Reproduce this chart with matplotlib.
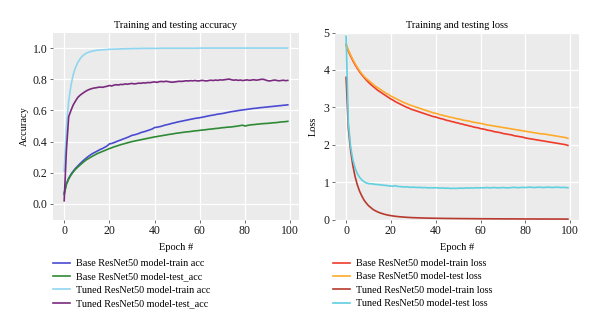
import matplotlib
matplotlib.use("Agg")
import matplotlib.pyplot as plt

epochs = list(range(100))

base_train_acc = [
    0.07, 0.13, 0.165, 0.19, 0.21, 0.228, 0.243, 0.258, 0.272, 0.285,
    0.297, 0.308, 0.318, 0.327, 0.334, 0.342, 0.35, 0.356, 0.364, 0.372,
    0.385, 0.388, 0.393, 0.399, 0.405, 0.41, 0.416, 0.421, 0.427, 0.433,
    0.44, 0.443, 0.447, 0.452, 0.458, 0.462, 0.466, 0.471, 0.476, 0.481,
    0.49, 0.492, 0.495, 0.498, 0.503, 0.507, 0.51, 0.514, 0.518, 0.521,
    0.525, 0.528, 0.531, 0.534, 0.537, 0.54, 0.543, 0.546, 0.549, 0.551,
    0.553, 0.556, 0.559, 0.562, 0.565, 0.568, 0.57, 0.573, 0.576, 0.578,
    0.58, 0.583, 0.586, 0.589, 0.592, 0.594, 0.596, 0.599, 0.601, 0.603,
    0.605, 0.607, 0.609, 0.611, 0.613, 0.614, 0.616, 0.618, 0.619, 0.621,
    0.622, 0.624, 0.625, 0.627, 0.628, 0.63, 0.631, 0.633, 0.634, 0.636]

base_test_acc = [
    0.06, 0.125, 0.16, 0.185, 0.205, 0.222, 0.236, 0.249, 0.262, 0.274,
    0.285, 0.293, 0.302, 0.31, 0.318, 0.325, 0.331, 0.337, 0.343, 0.349,
    0.355, 0.36, 0.366, 0.37, 0.375, 0.38, 0.384, 0.388, 0.392, 0.396,
    0.4, 0.403, 0.406, 0.409, 0.412, 0.415, 0.418, 0.421, 0.424, 0.427,
    0.43, 0.432, 0.435, 0.437, 0.44, 0.442, 0.445, 0.447, 0.449, 0.452,
    0.454, 0.456, 0.458, 0.46, 0.462, 0.463, 0.465, 0.467, 0.469, 0.47,
    0.472, 0.474, 0.475, 0.477, 0.479, 0.48, 0.482, 0.484, 0.485, 0.487,
    0.489, 0.49, 0.492, 0.493, 0.494, 0.496, 0.498, 0.5, 0.503, 0.505,
    0.5, 0.503, 0.506, 0.508, 0.509, 0.511, 0.512, 0.514, 0.515, 0.516,
    0.517, 0.518, 0.52, 0.521, 0.522, 0.524, 0.526, 0.527, 0.528, 0.53]

tuned_train_acc = [
    0.21, 0.5, 0.66, 0.76, 0.83, 0.875, 0.907, 0.93, 0.948, 0.96,
    0.969, 0.975, 0.979, 0.982, 0.985, 0.987, 0.988, 0.989, 0.99, 0.991,
    0.992, 0.993, 0.993, 0.994, 0.994, 0.995, 0.995, 0.996, 0.996, 0.996,
    0.997, 0.997, 0.997, 0.997, 0.998, 0.998, 0.998, 0.998, 0.998, 0.998,
    0.998, 0.998, 0.998, 0.999, 0.999, 0.999, 0.999, 0.999, 0.999, 0.999,
    0.999, 0.999, 0.999, 0.999, 0.999, 0.999, 0.999, 0.999, 0.999, 0.999,
    1.0, 1.0, 1.0, 1.0, 1.0, 1.0, 1.0, 1.0, 1.0, 1.0,
    1.0, 1.0, 1.0, 1.0, 1.0, 1.0, 1.0, 1.0, 1.0, 1.0,
    1.0, 1.0, 1.0, 1.0, 1.0, 1.0, 1.0, 1.0, 1.0, 1.0,
    1.0, 1.0, 1.0, 1.0, 1.0, 1.0, 1.0, 1.0, 1.0, 1.0]

tuned_test_acc = [
    0.02, 0.35, 0.56, 0.6, 0.635, 0.66, 0.683, 0.697, 0.708, 0.718,
    0.727, 0.734, 0.739, 0.743, 0.745, 0.748, 0.75, 0.748, 0.752, 0.755,
    0.76, 0.757, 0.762, 0.765, 0.763, 0.767, 0.766, 0.77, 0.768, 0.771,
    0.773, 0.77, 0.772, 0.775, 0.774, 0.777, 0.776, 0.779, 0.778, 0.781,
    0.783, 0.78, 0.784, 0.786, 0.784, 0.787, 0.785, 0.782, 0.781, 0.783,
    0.785, 0.787, 0.786, 0.788, 0.79, 0.789, 0.791, 0.79, 0.792, 0.789,
    0.79, 0.793, 0.791, 0.789, 0.792, 0.794, 0.792, 0.795, 0.793, 0.796,
    0.795, 0.797, 0.799, 0.801, 0.797, 0.794, 0.796, 0.793, 0.795, 0.792,
    0.794, 0.796, 0.793, 0.795, 0.797, 0.794, 0.796, 0.799, 0.8, 0.796,
    0.791, 0.789, 0.792, 0.795, 0.793, 0.79, 0.792, 0.794, 0.791, 0.793]

base_train_loss = [
    4.66, 4.5, 4.37, 4.25, 4.14, 4.04, 3.95, 3.87, 3.8, 3.73,
    3.67, 3.61, 3.56, 3.51, 3.46, 3.42, 3.38, 3.34, 3.3, 3.26,
    3.22, 3.19, 3.15, 3.12, 3.09, 3.06, 3.03, 3.0, 2.98, 2.95,
    2.93, 2.91, 2.89, 2.87, 2.85, 2.83, 2.81, 2.79, 2.77, 2.75,
    2.74, 2.72, 2.7, 2.69, 2.67, 2.65, 2.64, 2.62, 2.61, 2.59,
    2.58, 2.56, 2.55, 2.53, 2.52, 2.5, 2.49, 2.47, 2.46, 2.45,
    2.43, 2.42, 2.41, 2.39, 2.38, 2.37, 2.35, 2.34, 2.33, 2.32,
    2.3, 2.29, 2.28, 2.27, 2.26, 2.24, 2.23, 2.22, 2.21, 2.2,
    2.18, 2.17, 2.16, 2.15, 2.14, 2.13, 2.12, 2.11, 2.1, 2.09,
    2.08, 2.07, 2.06, 2.05, 2.04, 2.03, 2.02, 2.01, 2.0, 1.98]

base_test_loss = [
    4.7, 4.53, 4.4, 4.28, 4.17, 4.07, 3.98, 3.9, 3.83, 3.77,
    3.72, 3.67, 3.62, 3.57, 3.53, 3.49, 3.45, 3.41, 3.37, 3.34,
    3.3, 3.27, 3.24, 3.21, 3.18, 3.15, 3.12, 3.1, 3.07, 3.05,
    3.03, 3.01, 2.99, 2.97, 2.95, 2.93, 2.91, 2.89, 2.87, 2.85,
    2.84, 2.82, 2.8, 2.79, 2.77, 2.76, 2.74, 2.73, 2.72, 2.7,
    2.69, 2.68, 2.66, 2.65, 2.64, 2.63, 2.61, 2.6, 2.59, 2.58,
    2.57, 2.56, 2.54, 2.53, 2.52, 2.51, 2.5, 2.49, 2.48, 2.47,
    2.46, 2.45, 2.44, 2.43, 2.42, 2.41, 2.4, 2.39, 2.38, 2.37,
    2.36, 2.35, 2.34, 2.33, 2.32, 2.31, 2.3, 2.29, 2.29, 2.28,
    2.27, 2.26, 2.25, 2.24, 2.23, 2.22, 2.21, 2.2, 2.19, 2.17]

tuned_train_loss = [
    3.8, 2.45, 1.85, 1.45, 1.15, 0.93, 0.76, 0.63, 0.52, 0.44,
    0.37, 0.32, 0.27, 0.235, 0.205, 0.18, 0.16, 0.142, 0.127, 0.114,
    0.103, 0.094, 0.086, 0.079, 0.073, 0.068, 0.063, 0.059, 0.055, 0.052,
    0.049, 0.047, 0.045, 0.043, 0.041, 0.039, 0.038, 0.036, 0.035, 0.034,
    0.033, 0.032, 0.031, 0.03, 0.029, 0.028, 0.028, 0.027, 0.026, 0.026,
    0.025, 0.025, 0.024, 0.024, 0.023, 0.023, 0.022, 0.022, 0.021, 0.021,
    0.02, 0.02, 0.02, 0.019, 0.019, 0.019, 0.018, 0.018, 0.018, 0.017,
    0.017, 0.017, 0.016, 0.016, 0.016, 0.016, 0.015, 0.015, 0.015, 0.015,
    0.014, 0.014, 0.014, 0.014, 0.014, 0.013, 0.013, 0.013, 0.013, 0.013,
    0.013, 0.012, 0.012, 0.012, 0.012, 0.012, 0.012, 0.012, 0.011, 0.011]

tuned_test_loss = [
    4.9, 2.6, 1.95, 1.6, 1.38, 1.23, 1.13, 1.06, 1.01, 0.98,
    0.96, 0.955, 0.95, 0.94, 0.935, 0.93, 0.92, 0.915, 0.91, 0.9,
    0.895, 0.89, 0.905, 0.885, 0.88, 0.875, 0.87, 0.875, 0.865, 0.86,
    0.865, 0.86, 0.855, 0.86, 0.85, 0.855, 0.85, 0.845, 0.85, 0.845,
    0.85, 0.845, 0.84, 0.845, 0.835, 0.84, 0.835, 0.83, 0.835, 0.83,
    0.835, 0.84, 0.835, 0.84, 0.845, 0.84, 0.845, 0.84, 0.85, 0.845,
    0.85, 0.845, 0.85, 0.855, 0.845, 0.85, 0.855, 0.85, 0.845, 0.85,
    0.855, 0.85, 0.845, 0.85, 0.855, 0.86, 0.855, 0.85, 0.855, 0.86,
    0.855, 0.86, 0.865, 0.86, 0.855, 0.86, 0.865, 0.86, 0.855, 0.86,
    0.865, 0.86, 0.855, 0.86, 0.865, 0.86, 0.855, 0.86, 0.855, 0.85]

acc_labels = ["Base ResNet50 model-train acc", "Base ResNet50 model-test_acc",
              "Tuned ResNet50 model-train acc", "Tuned ResNet50 model-test_acc"]
loss_labels = ["Base ResNet50 model-train loss", "Base ResNet50 model-test loss",
               "Tuned ResNet50 model-train loss", "Tuned ResNet50 model-test loss"]
acc_colors = ["#4a4ad2", "#2f8a35", "#8fd6f0", "#7a2a7e"]
loss_colors = ["#f03a2a", "#ffaa2a", "#b8392e", "#5fd0e0"]

plt.rcParams["font.family"] = ["Liberation Serif", "DejaVu Serif"]
plt.rcParams["font.size"] = 7.5

fig = plt.figure(figsize=(6.0, 3.27), dpi=100)
ax1 = fig.add_axes([53/600, 1-219.5/327, 246/600, 187/327])
ax2 = fig.add_axes([335/600, 1-219.5/327, 244/600, 187/327])


def style(ax):
    ax.set_facecolor("#ebebeb")
    for s in ax.spines.values():
        s.set_visible(False)
    ax.grid(True, color="white", linewidth=0.9)
    ax.set_axisbelow(True)
    ax.tick_params(length=2, width=0.6, color="#555555", pad=2,
                   labelsize=8.5, labelcolor="#1a1a1a")


for ys, lab, c in zip([base_train_acc, base_test_acc, tuned_train_acc, tuned_test_acc],
                      acc_labels, acc_colors):
    ax1.plot(epochs, ys, color=c, lw=1.2, label=lab)
for ys, lab, c in zip([base_train_loss, base_test_loss, tuned_train_loss, tuned_test_loss],
                      loss_labels, loss_colors):
    ax2.plot(epochs, ys, color=c, lw=1.2, label=lab)

style(ax1)
style(ax2)
ax1.set_ylim(-0.1, 1.1)
ax1.set_yticks([0.0, 0.2, 0.4, 0.6, 0.8, 1.0])
ax1.set_yticklabels(["0.0", "0.2", "0.4", "0.6", "0.8", "1.0"])
ax2.set_ylim(0, 5)
ax2.set_yticks([0, 1, 2, 3, 4, 5])
for ax in (ax1, ax2):
    ax.set_xticks([0, 20, 40, 60, 80, 100])
    ax.set_xlabel("Epoch #", fontsize=7.5, labelpad=4.5)

ax1.set_title("Training and testing accuracy", fontsize=7.5, pad=3)
ax2.set_title("Training and testing loss", fontsize=7.5, pad=3)
ax1.set_ylabel("Accuracy", fontsize=7.5, labelpad=3)
ax2.set_ylabel("Loss", fontsize=7.5, labelpad=4)

for ax, x0 in ((ax1, 53), (ax2, 333)):
    fig.legend(handles=ax.get_lines(), loc="upper left",
               bbox_to_anchor=(x0/600, 1-259/327), frameon=False,
               fontsize=7.3, handlelength=1.7, handletextpad=0.6,
               labelspacing=0.42, borderpad=0, borderaxespad=0)

fig.savefig("out.png", dpi=100)
